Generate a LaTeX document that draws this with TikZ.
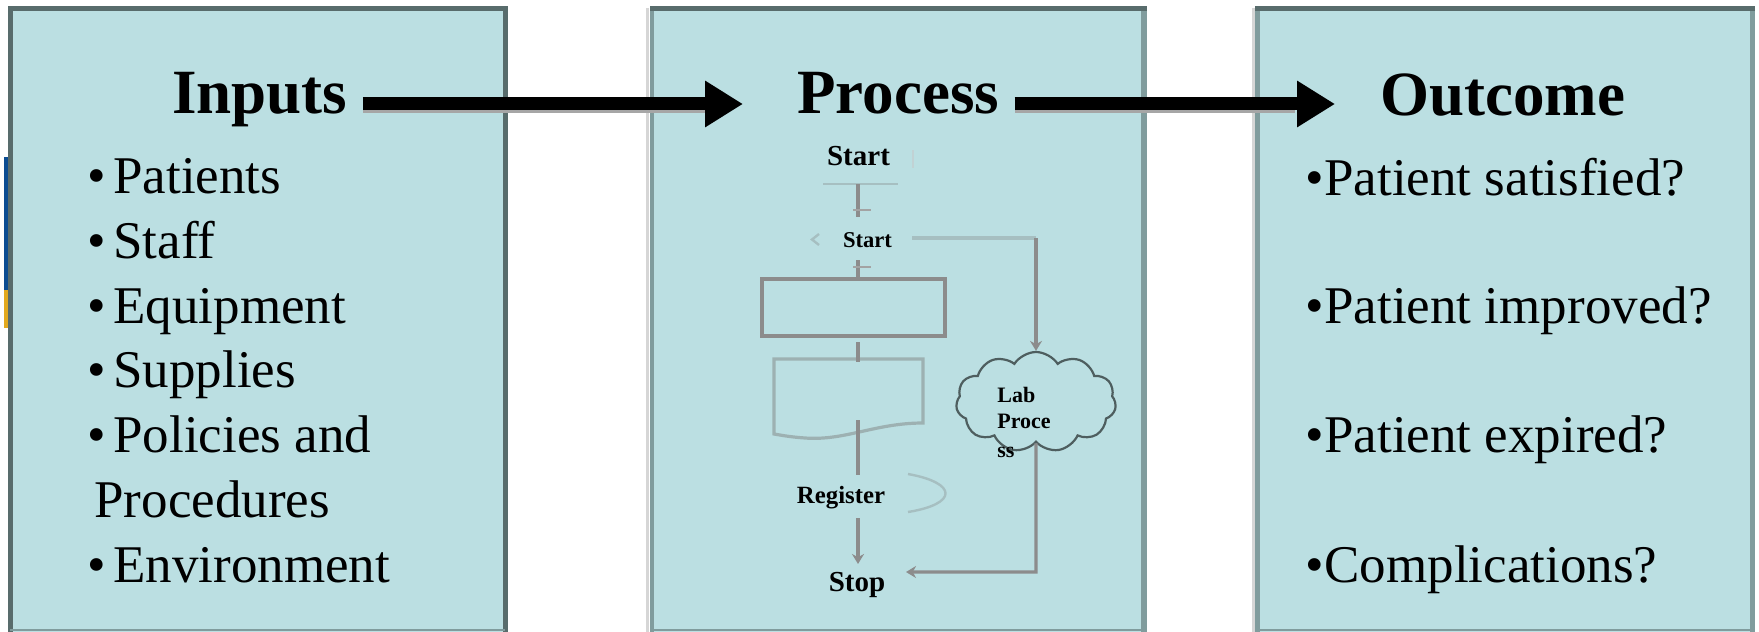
\documentclass[tikz,border=0pt]{standalone}
\usepackage{fontspec}
\setmainfont{Liberation Serif}
\usetikzlibrary{arrows.meta,shapes.symbols}
\definecolor{panelfill}{HTML}{BBDFE2}
\definecolor{paneldark}{HTML}{586C6C}
\definecolor{panelside}{HTML}{809C9D}
\definecolor{flowgray}{HTML}{8C8C8C}
\definecolor{flowlight}{HTML}{A6BFC1}
\definecolor{docgray}{HTML}{9DB1B2}
\definecolor{cloudgray}{HTML}{4E5E5F}
\definecolor{stripblue}{HTML}{0C4D92}
\definecolor{striporange}{HTML}{E2A91E}
\definecolor{shadowgray}{HTML}{D6D6D6}
\begin{document}
\begin{tikzpicture}[x=0.5pt,y=-0.5pt,
  paneltitle/.style={anchor=base west,inner sep=0pt,font=\bfseries\fontsize{31.5pt}{38pt}\selectfont},
  listitem/.style={anchor=base west,inner sep=0pt,font=\fontsize{26.5pt}{32pt}\selectfont},
  bigarrow/.style={line width=6.5pt,-{Triangle[length=19pt,width=22pt]}},
  arrowshadow/.style={line width=6.5pt,color=gray!70},
  flowline/.style={flowgray,line width=1.6pt},
  flowtick/.style={flowgray!80,line width=1.2pt},
  smallhead/.style={-{Stealth[length=5pt,width=6pt]}},
  flowlabel/.style={anchor=base,inner sep=0pt,font=\bfseries\fontsize{14.5pt}{17pt}\selectfont},
  cloudlabel/.style={anchor=base west,inner sep=0pt,font=\bfseries\fontsize{11pt}{13pt}\selectfont}
]
\useasboundingbox (0,0) rectangle (1759,631);
\clip (0,0) rectangle (1759,631);

% side strip
\fill[stripblue] (4,157) rectangle (9,290);
\fill[striporange] (4,290) rectangle (9,328);

% left panel
\fill[panelfill] (10,8) rectangle (505,640);
\draw[paneldark,line width=2.5pt] (10.5,640) -- (10.5,8.5) -- (505,8.5) -- (505,640);
\draw[panelside,line width=1pt] (10,630) -- (505,630);

% middle panel
\draw[shadowgray,line width=1.6pt] (647.5,8) -- (647.5,640);
\fill[panelfill] (652,8) rectangle (1144,640);
\draw[panelside,line width=2.2pt] (652,8) -- (652,640);
\draw[panelside,line width=3pt] (1144,8) -- (1144,640);
\draw[paneldark,line width=2.5pt] (650,8.5) -- (1147,8.5);
\draw[panelside,line width=1pt] (652,630) -- (1144,630);

% right panel
\draw[shadowgray,line width=1.6pt] (1253.5,8) -- (1253.5,640);
\fill[panelfill] (1257.5,8) rectangle (1752.5,640);
\draw[panelside,line width=2.5pt] (1257.5,8) -- (1257.5,640);
\draw[panelside,line width=2.5pt] (1752.5,8) -- (1752.5,640);
\draw[paneldark,line width=2.5pt] (1255,8.5) -- (1755,8.5);
\draw[panelside,line width=1pt] (1257,630) -- (1753,630);

% titles
\node[paneltitle] (inputs) at (172,113) {Inputs};
\node[paneltitle] (process) at (797,113) {Process};
\node[paneltitle] (outcome) at (1380,115) {Outcome};

% big arrows
\draw[arrowshadow] ([shift={(15,-6)}]inputs.base east) -- ([shift={(-90,-6)}]process.base west);
\draw[bigarrow] ([shift={(15,-9)}]inputs.base east) -- ([shift={(-54,-9)}]process.base west);
\draw[arrowshadow] ([shift={(15,-6)}]process.base east) -- ([shift={(-85,-8)}]outcome.base west);
\draw[bigarrow] ([shift={(15,-9)}]process.base east) -- ([shift={(-45,-11)}]outcome.base west);

% inputs list
\node[listitem] (i1) at (87.5,193) {•\hspace{3.5pt}Patients};
\node[listitem] (i2) at (87.5,258) {•\hspace{3.5pt}Staff};
\node[listitem] (i3) at (87.5,323) {•\hspace{3.5pt}Equipment};
\node[listitem] (i4) at (87.5,387) {•\hspace{3.5pt}Supplies};
\node[listitem] (i5) at (87.5,452) {•\hspace{3.5pt}Policies and};
\node[listitem] (i6) at (94,517) {Procedures};
\node[listitem] (i7) at (87.5,582) {•\hspace{3.5pt}Environment};

% outcome list
\node[listitem] (o1) at (1305.5,195) {•Patient satisfied?};
\node[listitem] (o2) at (1305.5,323) {•Patient improved?};
\node[listitem] (o3) at (1305.5,452) {•Patient expired?};
\node[listitem] (o4) at (1305.5,582) {•Complications?};

% flowchart
\node[flowlabel] (start) at (858.5,165) {Start};
\draw[flowlight!70,line width=1pt] (913,150) -- (913,168);
\draw[flowlight,line width=1pt] (823,184) -- (898,184);
\coordinate (c1) at (858,184);
\coordinate (c2) at (858,217);
\draw[flowline] (c1) -- (c2);
\draw[flowtick] (853,210) -- (871,210);

\node[flowlabel,font=\bfseries\fontsize{11.3pt}{13pt}\selectfont] (start2) at (867.5,247) {Start};
\draw[flowlight,line width=1.2pt] (819,234) -- (812,239.5) -- (819,245);

\coordinate (c3) at (858,260);
\node[draw=flowgray,line width=1.6pt,minimum width=91.5pt,minimum height=28.5pt,inner sep=0pt] (box1) at (853.5,307.5) {};
\draw[flowline] (c3) -- (c3 |- box1.north);
\draw[flowtick] (853,267) -- (871,267);

% document shape
\coordinate (d1) at (774,359);
\draw[docgray,line width=1.6pt] (d1) -- (923,359) -- (923,423)
  .. controls (875,423) and (845,441) .. (805,438)
  .. controls (790,437) and (780,435) .. (774,434) -- cycle;
\draw[flowline] (858,342) -- (858,362);
\draw[flowline] (858,420) -- (858,475);

\node[flowlabel,font=\bfseries\fontsize{12.4pt}{15pt}\selectfont] (register) at (841,503) {Register};
\draw[flowlight,line width=1.2pt] (908,474) .. controls (958,483) and (958,504) .. (908,512);

\node[flowlabel] (stop) at (857,591) {Stop};
\draw[flowline,smallhead] (858,518) -- (858,564);

% cloud
\node[cloud,draw=cloudgray,line width=1.1pt,cloud puffs=11,cloud puff arc=115,aspect=1.55,
      minimum width=80pt,minimum height=50pt,inner sep=0pt] (lab) at (1036,402) {};
\node[cloudlabel] (lab1) at (997,402) {Lab};
\node[cloudlabel] (lab2) at (997,428) {Proce};
\node[cloudlabel] (lab3) at (997,457) {ss};

\draw[flowlight,line width=1.6pt] (912,238) -- (1036,238);
\draw[flowline,smallhead] (1036,238) -- (lab.north);
\draw[flowline,smallhead] (lab.south) -- (1036,572) -- (906,572);
\end{tikzpicture}
\end{document}
